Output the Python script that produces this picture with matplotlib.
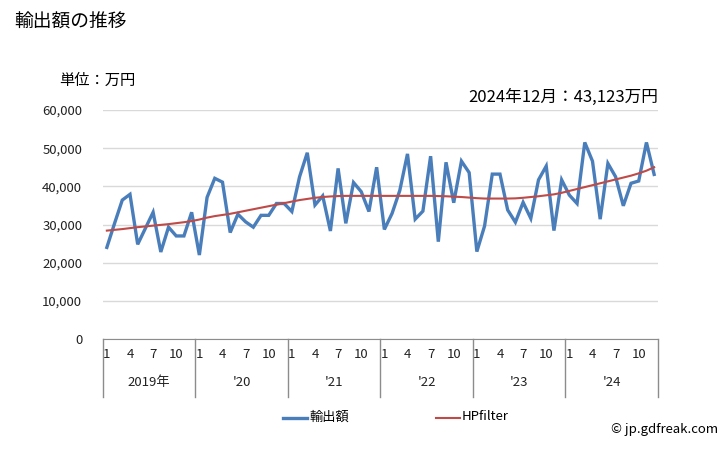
import matplotlib as mpl
mpl.use('Agg')
import matplotlib.pyplot as plt

plt.rcParams['font.family'] = ['Noto Sans CJK JP', 'DejaVu Sans']

# monthly export values (10,000 yen), Jan 2019 - Dec 2024
exports = [
    24000, 30300, 36400, 37900, 24800, 29000, 33200, 22800, 29300, 27000, 27000, 33200,
    22000, 37100, 42100, 41100, 27900, 32700, 30700, 29300, 32400, 32400, 35500, 35500,
    33400, 42500, 48800, 35100, 37500, 28300, 44700, 30300, 41000, 38600, 33400, 45000,
    28700, 32900, 38900, 48500, 31400, 33500, 47900, 25500, 46300, 35700, 46600, 43600,
    22900, 29600, 43200, 43200, 33800, 30600, 35800, 31600, 41700, 45300, 28400, 41700,
    37700, 35500, 51500, 46600, 31400, 46000, 42500, 34900, 40800, 41400, 51500, 43123,
]
hp_trend = [
    28400, 28600, 28800, 29050, 29300, 29500, 29700, 29900, 30100, 30350, 30600, 30900,
    31300, 31800, 32200, 32500, 32800, 33200, 33600, 34000, 34400, 34800, 35200, 35600,
    36000, 36400, 36700, 37000, 37200, 37350, 37450, 37500, 37500, 37500, 37500, 37500,
    37500, 37500, 37500, 37500, 37500, 37500, 37500, 37450, 37400, 37300, 37200, 37050,
    36900, 36800, 36800, 36800, 36800, 36850, 37000, 37200, 37400, 37650, 37900, 38300,
    38800, 39300, 39800, 40300, 40800, 41300, 41800, 42300, 42800, 43400, 44100, 45000,
]
years = ['2019年', "'20", "'21", "'22", "'23", "'24"]
month_ticks = [1, 4, 7, 10]
yticks = [0, 10000, 20000, 30000, 40000, 50000, 60000]

blue = '#4a7ebb'
red = '#be4b48'
gray = '#8c8c8c'

fig = plt.figure(figsize=(7.28, 4.5), dpi=100)
ax = fig.add_axes([103 / 728, 1 - 339 / 450, 555 / 728, 229 / 450])

x = [i + 0.5 for i in range(len(exports))]
ax.plot(x, exports, color=blue, lw=2.4, solid_joinstyle='miter', zorder=3)
ax.plot(x, hp_trend, color=red, lw=1.5, zorder=4)

ax.set_xlim(0, len(exports))
ax.set_ylim(0, 60000)
ax.set_yticks(yticks)
ax.set_yticklabels([f'{v:,}' for v in yticks], fontsize=9.5, color='#222222')
ax.tick_params(axis='y', length=0, pad=15)
ax.set_xticks([])
for s in ['top', 'right', 'left']:
    ax.spines[s].set_visible(False)
ax.spines['bottom'].set_color(gray)
ax.grid(axis='y', color='#d9d9d9', lw=1)
ax.set_axisbelow(True)

# category axis: month and year boxes
tr = ax.get_xaxis_transform()
for k in range(len(years) + 1):
    ax.plot([k * 12, k * 12], [0, -0.253], transform=tr, color=gray, lw=1, clip_on=False)
for k, yl in enumerate(years):
    for m in month_ticks:
        ax.text(k * 12 + m - 0.5, -0.066, str(m), transform=tr, ha='center', va='center',
                fontsize=9.5, color='#222222')
    ax.text(k * 12 + 6, -0.188, yl, transform=tr, ha='center', va='center',
            fontsize=9.5, color='#222222')

fig.text(14 / 728, 1 - 22 / 450, '輸出額の推移', fontsize=13.5, va='center', ha='left')
fig.text(59 / 728, 1 - 80 / 450, '単位：万円', fontsize=11, va='center', ha='left')
fig.text(658 / 728, 1 - 97 / 450, '2024年12月：43,123万円', fontsize=12, va='center', ha='right')

# legend
fig.lines.append(plt.Line2D([283 / 728, 307 / 728], [1 - 418 / 450] * 2, color=blue, lw=2.4,
                            transform=fig.transFigure))
fig.text(309 / 728, 1 - 417 / 450, '輸出額', fontsize=9.5, va='center', ha='left')
fig.lines.append(plt.Line2D([436 / 728, 460 / 728], [1 - 418 / 450] * 2, color=red, lw=1.5,
                            transform=fig.transFigure))
fig.text(462 / 728, 1 - 417 / 450, 'HPfilter', fontsize=9.5, va='center', ha='left')

fig.text(718 / 728, 1 - 430 / 450, '© jp.gdfreak.com', fontsize=9.5, va='center', ha='right')

fig.savefig('out.png', dpi=100)
